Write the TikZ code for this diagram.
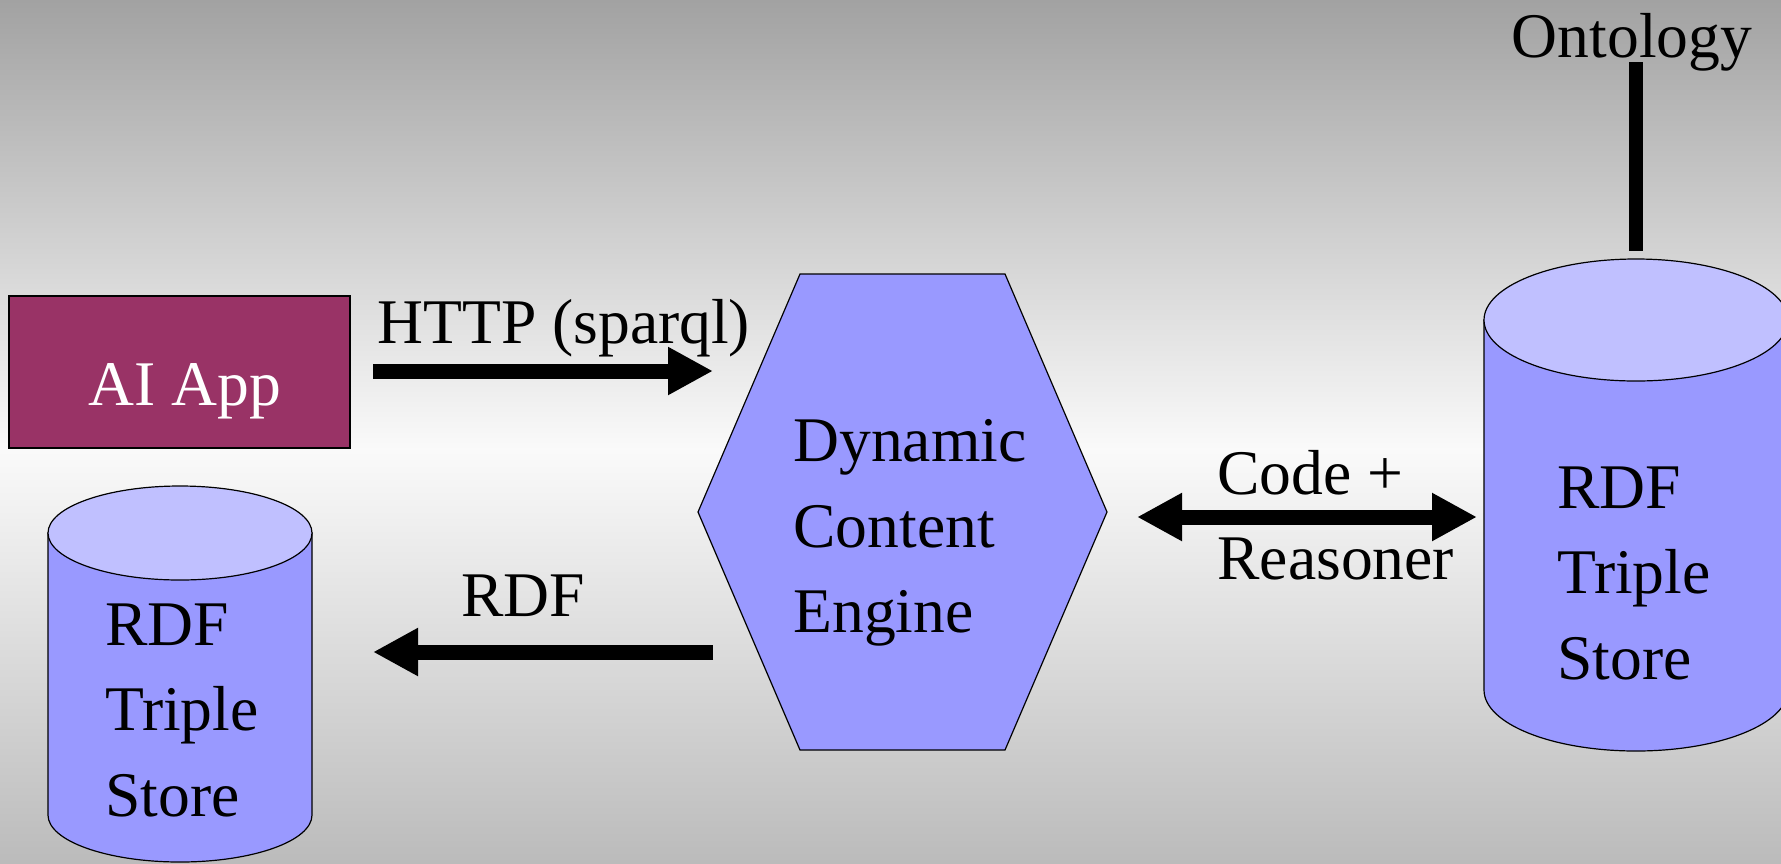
\documentclass[tikz,border=0pt]{standalone}
\usepackage{fontspec}
\setmainfont{Liberation Serif}
\usetikzlibrary{arrows.meta}
\definecolor{plum}{HTML}{993366}
\definecolor{bodyblue}{HTML}{9999FF}
\definecolor{capblue}{HTML}{C0C0FF}
\definecolor{bgtop}{HTML}{A2A2A2}
\definecolor{bgmid}{HTML}{FAFAFA}
\definecolor{bgbot}{HTML}{BBBBBB}
\tikzset{
  big/.style={font=\fontsize{31.8}{42.75}\selectfont, inner sep=0pt},
  fat/.style={line width=7.5pt, -{Triangle[length=22.5pt,width=22.5pt]}},
  thin/.style={line width=0.6pt},
}

\begin{document}
\begin{tikzpicture}[x=0.5pt,y=-0.5pt]
          \useasboundingbox (0,0) rectangle (1781,863);
          \shade[top color=bgtop, bottom color=bgmid] (0,0) rectangle (1781,450);
          \shade[top color=bgmid, bottom color=bgbot] (0,450) rectangle (1781,863);
          \foreach \cx/\ty/\by/\rx/\ry in {180/533/815/132/47, 1636/320/690/152/61}{
            \draw[thin, fill=bodyblue] (\cx-\rx,\ty) -- (\cx-\rx,\by)
              arc[start angle=180, end angle=0, x radius=\rx, y radius=\ry] -- (\cx+\rx,\ty) -- cycle;
            \draw[thin, fill=capblue] (\cx,\ty) ellipse [x radius=\rx, y radius=\ry];}
          \node[big, align=left, anchor=west] (storeL) at (105,710) {RDF\\Triple\\Store};
          \node[big, align=left, anchor=west] (storeR) at (1557,573) {RDF\\Triple\\Store};
          \draw[thin, fill=bodyblue] (698,512) -- (800,274) -- (1005,274) -- (1107,512) -- (1005,750) -- (800,750) -- cycle;
          \node[big, align=left, anchor=west] (engine) at (793,533) {Dynamic\\Content\\Engine};
          \draw[thin, fill=plum] (9,296) rectangle (350,448);
          \node[big, white, anchor=base] (app) at (185,405) {AI App};
          \node[big, anchor=base west] (http) at (377,343) {HTTP (sparql)};
          \node[big, anchor=base west] (rdf) at (461,616) {RDF};
          \node[big, align=left, anchor=west] (reason) at (1217,515) {Code +\\Reasoner};
          \node[big, anchor=base] (onto) at (1632,57) {Ontology};
          \coordinate (h1) at (373,371);
          \coordinate (h2) at (713,371);
          \coordinate (r1) at (713,652);
          \coordinate (r2) at (373,652);
          \coordinate (c1) at (1137,517);
          \coordinate (c2) at (1477,517);
          \coordinate (o1) at (1636,62);
          \coordinate (o2) at (1636,251);
          \draw[fat] (h1) -- (h2);
          \draw[fat] (r1) -- (r2);
          \draw[fat, {Triangle[length=22.5pt,width=22.5pt]}-{Triangle[length=22.5pt,width=22.5pt]}] (c1) -- (c2);
          \draw[line width=7pt] (o1) -- (o2);
        \end{tikzpicture}
\end{document}
